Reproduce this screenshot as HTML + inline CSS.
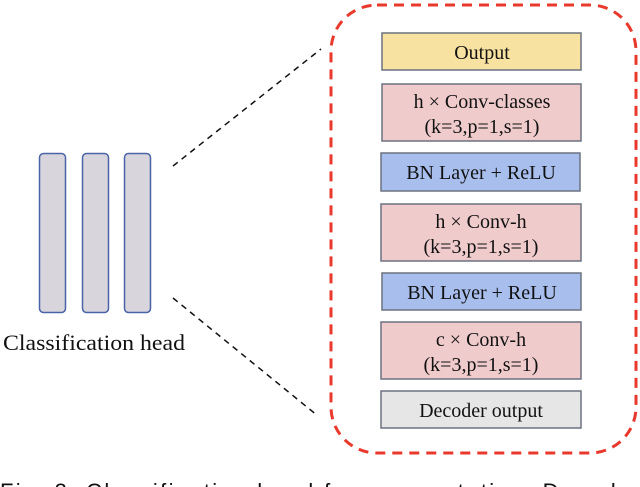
<!DOCTYPE html>
<html><head><style>
html,body{margin:0;padding:0;background:#fff;overflow:hidden;width:640px;height:487px}
svg{display:block}
text{font-family:"Liberation Serif",serif;fill:#111}
</style></head><body>
<svg width="640" height="487" viewBox="0 0 640 487" xmlns="http://www.w3.org/2000/svg">
<rect x="331" y="5" width="305" height="448" rx="46" ry="46" fill="none" stroke="#e8392c" stroke-width="3" stroke-dasharray="10,7"/>
<line x1="173" y1="166" x2="321" y2="49" stroke="#111" stroke-width="1.5" stroke-dasharray="6,5"/>
<line x1="173" y1="298" x2="318" y2="416" stroke="#111" stroke-width="1.5" stroke-dasharray="6,5"/>
<g fill="#d8d5dc" stroke="#4a64a8" stroke-width="1.5">
<rect x="39.5" y="153.5" width="26" height="159" rx="4"/>
<rect x="82.5" y="153.5" width="26" height="159" rx="4"/>
<rect x="124.5" y="153.5" width="26" height="159" rx="4"/>
</g>
<text x="3" y="350" font-size="22" textLength="182" lengthAdjust="spacingAndGlyphs">Classification head</text>
<g stroke="#6b7280" stroke-width="1.5">
<rect x="382" y="33" width="199" height="37" fill="#f8e2a2"/>
<rect x="382" y="84" width="199" height="57" fill="#efcbcc"/>
<rect x="381" y="153" width="199" height="38" fill="#a8bfee"/>
<rect x="381" y="204" width="200" height="57" fill="#efcbcc"/>
<rect x="382" y="273" width="199" height="37" fill="#a8bfee"/>
<rect x="381" y="322" width="200" height="57" fill="#efcbcc"/>
<rect x="381" y="391" width="200" height="37" fill="#e6e6e6"/>
</g>
<g font-size="20" text-anchor="middle">
<text x="482" y="59">Output</text>
<text x="482" y="108">h × Conv-classes</text>
<text x="482" y="133">(k=3,p=1,s=1)</text>
<text x="481" y="179">BN Layer + ReLU</text>
<text x="481" y="228">h × Conv-h</text>
<text x="481" y="253">(k=3,p=1,s=1)</text>
<text x="482" y="299">BN Layer + ReLU</text>
<text x="481" y="346">c × Conv-h</text>
<text x="481" y="371">(k=3,p=1,s=1)</text>
<text x="481" y="417">Decoder output</text>
</g>
<text x="0" y="499" font-size="22" style="font-family:'Liberation Sans',sans-serif" fill="#222" textLength="640" lengthAdjust="spacing">Fig. 3.    Classification head for segmentation. Decoder</text>
</svg>
</body></html>
